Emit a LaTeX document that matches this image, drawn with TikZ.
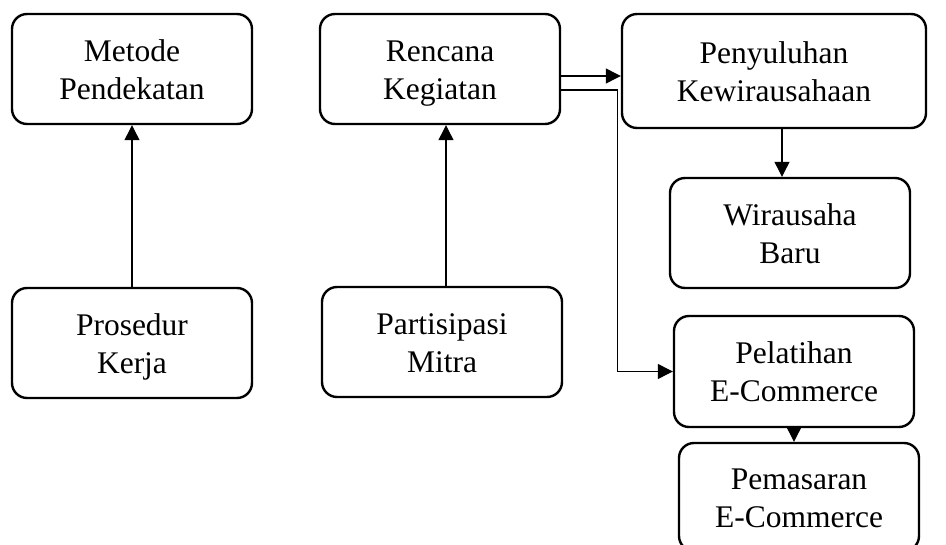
\documentclass[tikz,border=0pt]{standalone}
\usepackage{fontspec}
\setmainfont{Liberation Serif}
\usetikzlibrary{arrows.meta}
\newcommand\lnstrut{\rule[-7pt]{0pt}{37pt}}
\begin{document}
\begin{tikzpicture}[x=1pt,y=-1pt,
  box/.style={draw, line width=2.4pt, rounded corners=15pt, align=center,
    inner sep=0pt, font=\fontsize{31.5}{35}\selectfont},
  arr/.style={line width=1.2pt, -{Triangle[length=15pt,width=15pt]}}]
\useasboundingbox (0,0) rectangle (946,545);
\node[box, minimum width=240pt, minimum height=110pt] (met) at (132,69) {\lnstrut Metode\\Pendekatan\lnstrut};
\node[box, minimum width=240pt, minimum height=110pt] (pro) at (132,343) {\lnstrut Prosedur\\Kerja\lnstrut};
\node[box, minimum width=240pt, minimum height=110pt] (ren) at (440,69) {\lnstrut Rencana\\Kegiatan\lnstrut};
\node[box, minimum width=240pt, minimum height=110pt] (par) at (442,342) {\lnstrut Partisipasi\\Mitra\lnstrut};
\node[box, minimum width=304pt, minimum height=114pt] (pen) at (774,71) {\lnstrut Penyuluhan\\Kewirausahaan\lnstrut};
\node[box, minimum width=240pt, minimum height=110pt] (wir) at (790,233) {\lnstrut Wirausaha\\Baru\lnstrut};
\node[box, minimum width=240pt, minimum height=111pt] (pel) at (794,371.5) {\lnstrut Pelatihan\\E-Commerce\lnstrut};
\node[box, minimum width=240pt, minimum height=108pt] (pem) at (799,497) {\lnstrut Pemasaran\\E-Commerce\lnstrut};
\draw[arr] (pro.north) -- (met.south);
\draw[arr] ([xshift=4pt]par.north) -- ([xshift=4pt]par.north |- ren.south);
\draw[arr] ([yshift=-7pt]ren.east) -- ([yshift=-7pt]ren.east -| pen.west);
\draw[arr] ([yshift=-21pt]ren.east) -- ++(56,0) |- (pel.west);
\draw[arr] ([xshift=8pt]pen.south) -- ([xshift=8pt]pen.south |- wir.north);
\draw[arr] (pel.south) -- (pel.south |- pem.north);
\end{tikzpicture}
\end{document}
